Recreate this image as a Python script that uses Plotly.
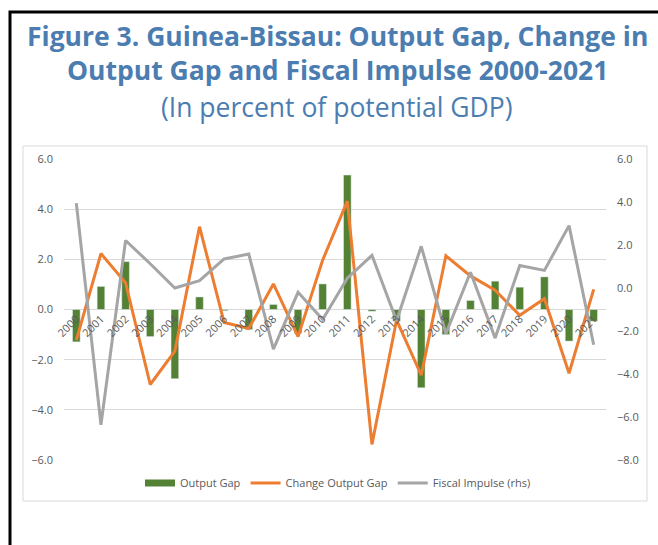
import plotly.graph_objects as go

# Guinea-Bissau output gap, its annual change and the fiscal impulse (percent of potential GDP)
years = [str(y) for y in range(2000, 2022)]
output_gap = [-1.29, 0.92, 1.91, -1.08, -2.76, 0.50, -0.05, -0.80, 0.20, -0.95, 1.02,
              5.36, -0.07, -0.47, -3.12, -1.00, 0.36, 1.13, 0.89, 1.30, -1.26, -0.47]
change_output_gap = [-1.22, 2.23, 1.06, -2.99, -1.66, 3.30, -0.52, -0.76, 1.02, -1.08, 1.97,
                     4.32, -5.38, -0.42, -2.62, 2.14, 1.34, 0.77, -0.23, 0.43, -2.54, 0.80]
fiscal_impulse = [3.95, -6.36, 2.21, 1.13, 0.00, 0.34, 1.35, 1.58, -2.84, -0.20, -1.47,
                  0.46, 1.52, -1.52, 1.94, -2.12, 0.73, -2.33, 1.05, 0.82, 2.90, -2.64]

left_ticks = [-6, -4, -2, 0, 2, 4, 6]
right_ticks = [-8, -6, -4, -2, 0, 2, 4, 6]

W, H = 658, 545
L, R, T, B = 64, 52, 159, 85
pw, ph = W - L - R, H - T - B


def px(x):
    return (x - L) / pw


def py(y):
    return (H - B - y) / ph


GREEN = "#548235"
ORANGE = "#ED7D31"
GRAY = "#A5A5A5"
TEXT = "#595959"
TITLE = "#4B7DB1"
FONT = "'Open Sans', 'Noto Sans', sans-serif"

fig = go.Figure()
fig.add_trace(go.Bar(x=years, y=output_gap, name="Output Gap", marker_color=GREEN,
                     yaxis="y", showlegend=False, legendgroup="og"))
# wide flat swatch for the bar series in the legend
fig.add_trace(go.Scatter(x=[None], y=[None], name="Output Gap", mode="lines",
                         line=dict(color=GREEN, width=7), legendgroup="og"))
fig.add_trace(go.Scatter(x=years, y=change_output_gap, name="Change Output Gap",
                         mode="lines", line=dict(color=ORANGE, width=3), yaxis="y"))
fig.add_trace(go.Scatter(x=years, y=fiscal_impulse, name="Fiscal Impulse (rhs)",
                         mode="lines", line=dict(color=GRAY, width=3), yaxis="y2"))

fig.update_layout(
    width=W, height=H,
    margin=dict(l=L, r=R, t=T, b=B),
    paper_bgcolor="white", plot_bgcolor="white",
    bargap=0.69,
    font=dict(family=FONT, size=11, color=TEXT),
    showlegend=True,
    legend=dict(orientation="h", x=px(338), xanchor="center", y=py(483), yanchor="middle",
                font=dict(size=11, color=TEXT), tracegroupgap=0),
    xaxis=dict(type="category", anchor="free", position=0.5, showgrid=False,
               showline=False, zeroline=False, tickangle=-45, ticks="",
               tickfont=dict(size=11, color=TEXT)),
    yaxis=dict(range=[-6, 6], tickvals=left_ticks, tickformat=".1f", showgrid=True,
               gridcolor="#D9D9D9", gridwidth=1, zeroline=False, showline=False,
               ticks="", ticklabelstandoff=10, tickfont=dict(size=11, color=TEXT)),
    yaxis2=dict(range=[-8, 6], tickvals=right_ticks, tickformat=".1f", overlaying="y",
                side="right", showgrid=False, zeroline=False, showline=False,
                ticks="", ticklabelstandoff=10, tickfont=dict(size=11, color=TEXT)),
    shapes=[
        # outer frame
        dict(type="rect", xref="paper", yref="paper", x0=px(10), x1=px(662),
             y0=py(550), y1=py(12), line=dict(color="black", width=3), layer="below"),
        # chart area border
        dict(type="rect", xref="paper", yref="paper", x0=px(23), x1=px(647),
             y0=py(501), y1=py(146), line=dict(color="#D9D9D9", width=1), layer="below"),
    ],
    annotations=[
        dict(text="<b>Figure 3. Guinea-Bissau: Output Gap, Change in<br>"
                  "Output Gap and Fiscal Impulse 2000-2021</b>",
             xref="paper", yref="paper", x=px(337), y=py(53), xanchor="center",
             yanchor="middle", showarrow=False, align="center",
             font=dict(family=FONT, size=26.5, color=TITLE)),
        dict(text="(In percent of potential GDP)", xref="paper", yref="paper",
             x=px(337), y=py(107), xanchor="center", yanchor="middle", showarrow=False,
             font=dict(family=FONT, size=26.5, color=TITLE)),
    ],
)

fig.write_html("out.html")
